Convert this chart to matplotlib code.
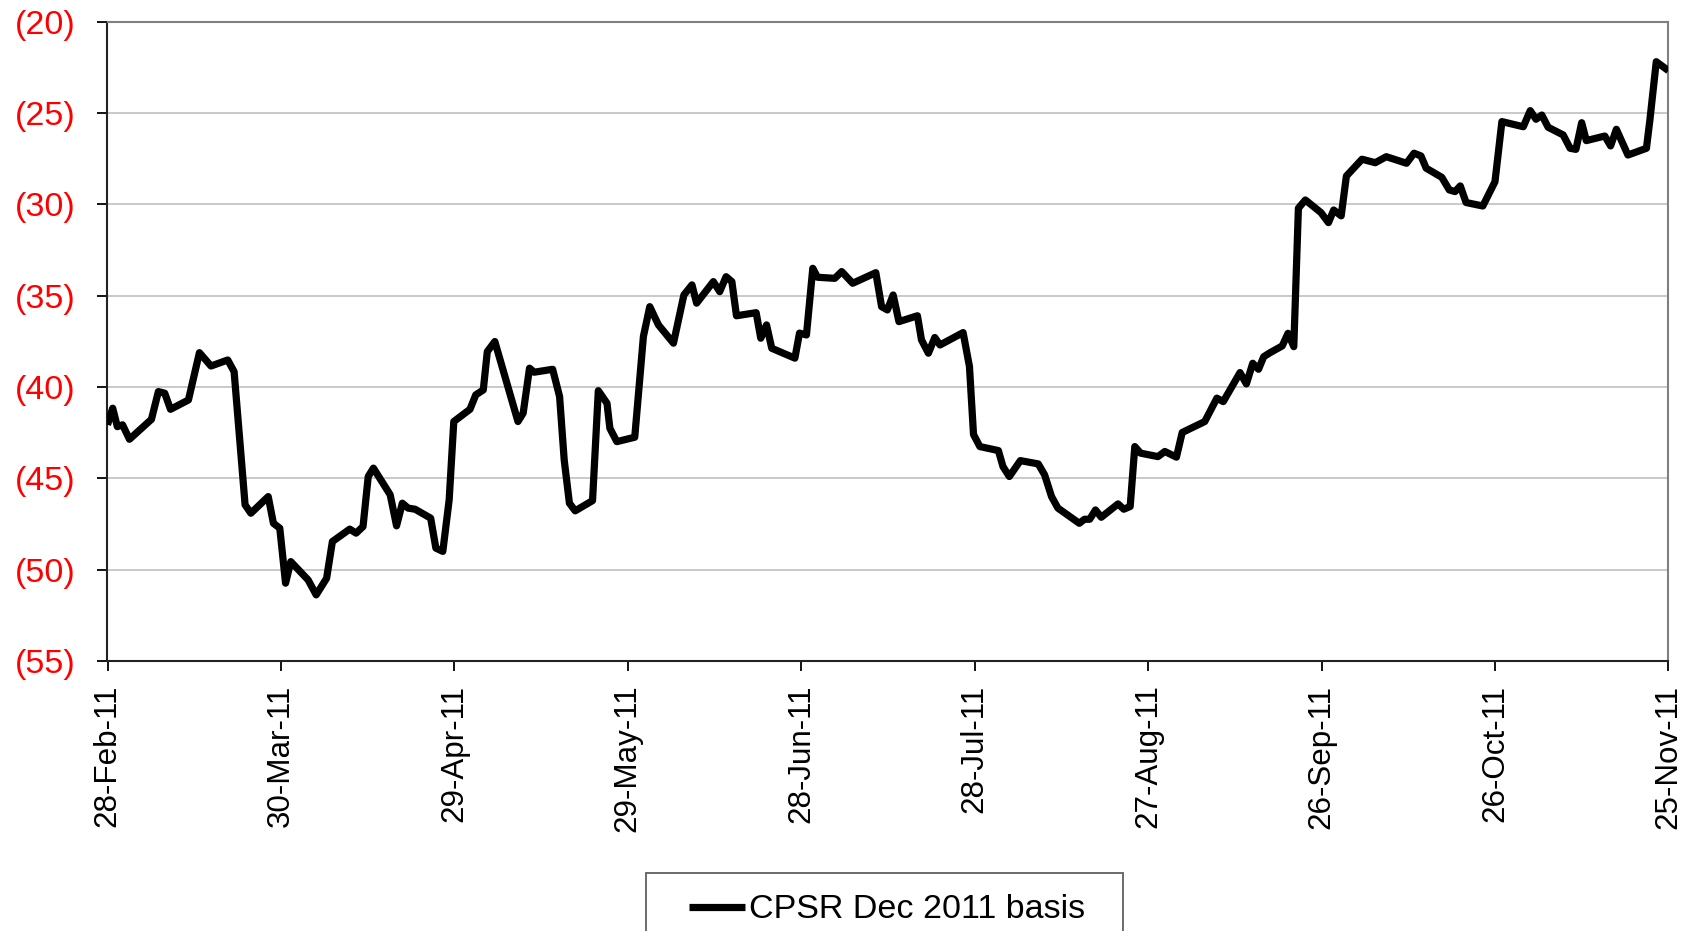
import matplotlib
matplotlib.use("Agg")
import matplotlib.pyplot as plt
import matplotlib.dates as mdates
from matplotlib.patches import Rectangle
from matplotlib.ticker import FuncFormatter, FixedLocator
from datetime import datetime, timedelta
import numpy as np

plt.rcParams['font.family'] = ['Liberation Sans', 'DejaVu Sans']

series_label = "CPSR Dec 2011 basis"
start_date = datetime(2011, 2, 28)
end_date = datetime(2011, 11, 25)

# days after 28-Feb-11
day_offsets = [
    0.0, 0.9, 1.7, 2.6, 3.8, 7.6, 8.8, 9.9, 10.9, 14.0, 15.9, 17.9, 20.8, 21.9,
    23.8, 24.8, 27.8, 28.7, 29.8, 30.8, 31.7, 34.7, 36.1, 37.9, 38.9, 41.9, 43.0,
    44.2, 45.1, 46.0, 48.9, 50.0, 51.0, 52.0, 53.2, 55.9, 56.8, 58.0, 59.1, 59.9,
    62.7, 63.7, 65.0, 65.7, 67.0, 71.0, 71.9, 73.0, 73.8, 77.0, 78.2, 79.0, 79.9,
    80.9, 83.9, 84.9, 86.4, 86.9, 88.1, 91.2, 92.7, 93.8, 95.3, 97.9, 99.7, 101.1,
    101.9, 104.8, 105.9, 107.0, 108.0, 108.8, 112.2, 113.0, 114.0, 114.9, 118.9,
    119.7, 120.9, 122.0, 122.8, 125.8, 127.0, 128.9, 132.9, 133.9, 134.9, 135.9,
    136.9, 140.1, 140.8, 142.0, 143.1, 144.0, 148.0, 149.1, 149.8, 150.9, 154.1,
    154.9, 156.0, 157.9, 161.0, 162.1, 163.3, 164.4, 168.1, 169.0, 169.9, 170.9,
    171.9, 174.8, 175.8, 176.9, 177.7, 178.7, 181.7, 182.9, 184.9, 185.9, 189.8,
    190.7, 191.9, 193.0, 195.9, 197.0, 198.1, 199.1, 200.0, 201.1, 203.2, 204.2,
    205.2, 206.0, 207.2, 209.9, 211.2, 212.1, 213.4, 214.3, 217.0, 219.3, 221.2,
    224.7, 226.0, 227.2, 228.1, 230.8, 232.1, 233.1, 234.0, 235.0, 237.9, 240.0,
    241.2, 244.9, 246.1, 247.1, 248.1, 249.2, 251.8, 253.0, 254.0, 255.0, 255.8,
    259.0, 260.0, 261.0, 263.0, 266.2, 266.8, 267.9, 270.0,
]

basis_values = [
    -42.07, -41.16, -42.17, -42.07, -42.86, -41.77, -40.25, -40.34, -41.22, -40.71,
    -38.12, -38.85, -38.52, -39.16, -46.45, -46.91, -46.0, -47.46, -47.73, -50.74,
    -49.56, -50.56, -51.38, -50.47, -48.46, -47.78, -48.0, -47.64, -44.9, -44.44,
    -45.9, -47.6, -46.36, -46.63, -46.69, -47.18, -48.82, -49.0, -46.18, -41.89,
    -41.22, -40.43, -40.16, -38.06, -37.51, -41.89, -41.43, -38.97, -39.19, -39.03,
    -40.52, -44.0, -46.36, -46.78, -46.22, -40.2, -40.89, -42.26, -42.99, -42.75,
    -37.23, -35.6, -36.6, -37.6, -34.96, -34.41, -35.41, -34.23, -34.78, -33.96,
    -34.23, -36.1, -35.93, -37.33, -36.6, -37.88, -38.42, -37.05, -37.15, -33.5,
    -33.99, -34.05, -33.68, -34.32, -33.74, -35.6, -35.78, -34.96, -36.42, -36.1,
    -37.42, -38.15, -37.29, -37.7, -37.02, -38.88, -42.6, -43.26, -43.48, -44.36,
    -44.9, -44.03, -44.21, -44.81, -46.0, -46.63, -47.46, -47.24, -47.24, -46.73,
    -47.13, -46.4, -46.69, -46.54, -43.26, -43.62, -43.81, -43.53, -43.84, -42.49,
    -41.89, -41.34, -40.61, -40.8, -39.21, -39.83, -38.7, -39.03, -38.34, -38.12,
    -37.75, -37.06, -37.79, -30.21, -29.76, -30.45, -31.0, -30.31, -30.63, -28.45,
    -27.53, -27.72, -27.39, -27.75, -27.2, -27.35, -28.02, -28.52, -29.21, -29.3,
    -28.99, -29.9, -30.09, -28.76, -25.47, -25.75, -24.87, -25.34, -25.11, -25.78,
    -26.2, -26.93, -26.99, -25.53, -26.51, -26.26, -26.8, -25.89, -27.3, -26.93,
    -25.38, -22.19, -22.68,
]

y_ticks = [-55, -50, -45, -40, -35, -30, -25, -20]
x_tick_step_days = 30

FS_Y = 24.5
FS_X = 22.6
FS_LEG = 24.5

fig = plt.figure(figsize=(17.02, 9.31), dpi=100)
ax = fig.add_axes([107.5 / 1702, 1 - 661 / 931, (1668.4 - 107.5) / 1702, (661 - 21.7) / 931])

x0 = mdates.date2num(start_date)
xs = x0 + np.array(day_offsets)
line, = ax.plot(xs, basis_values, color='black', lw=5.2, solid_joinstyle='round',
                solid_capstyle='butt', label=series_label, zorder=3)

ax.set_xlim(mdates.date2num(start_date), mdates.date2num(end_date))
ax.set_ylim(min(y_ticks), max(y_ticks))

tick_dates = []
d = start_date
while d <= end_date:
    tick_dates.append(mdates.date2num(d))
    d += timedelta(days=x_tick_step_days)
ax.xaxis.set_major_locator(FixedLocator(tick_dates))
ax.xaxis.set_major_formatter(mdates.DateFormatter('%d-%b-%y'))
ax.yaxis.set_major_locator(FixedLocator(y_ticks))
ax.yaxis.set_major_formatter(FuncFormatter(lambda v, p: "(%d)" % abs(round(v))))

for lab in ax.get_xticklabels():
    lab.set_rotation(90)
ax.tick_params(axis='x', direction='out', length=7, width=1.3, color='black',
               labelsize=FS_X, pad=10)
ax.tick_params(axis='y', direction='out', length=7, width=1.3, color='black',
               labelsize=FS_Y, labelcolor='#FF0000', pad=16)

ax.grid(axis='y', color='#C0C0C0', lw=1.2, zorder=0)
ax.set_axisbelow(True)
for s in ['top', 'right']:
    ax.spines[s].set_color('#808080')
    ax.spines[s].set_linewidth(1.5)
for s in ['left', 'bottom']:
    ax.spines[s].set_color('#222222')
    ax.spines[s].set_linewidth(1.5)

# legend box
fig.patches.append(Rectangle((646 / 1702, -0.02), (1123 - 646) / 1702, 0.02 + 1 - 872.7 / 931,
                             transform=fig.transFigure, facecolor='white',
                             edgecolor='#606060', lw=1.3))
fig.legend(handles=[line], labels=[series_label], loc='center left',
           bbox_to_anchor=(689 / 1702, 1 - 910 / 931), frameon=False,
           fontsize=FS_LEG, handlelength=1.65, handletextpad=0.12, borderpad=0,
           borderaxespad=0)

fig.savefig('out.png', dpi=100, facecolor='white')
